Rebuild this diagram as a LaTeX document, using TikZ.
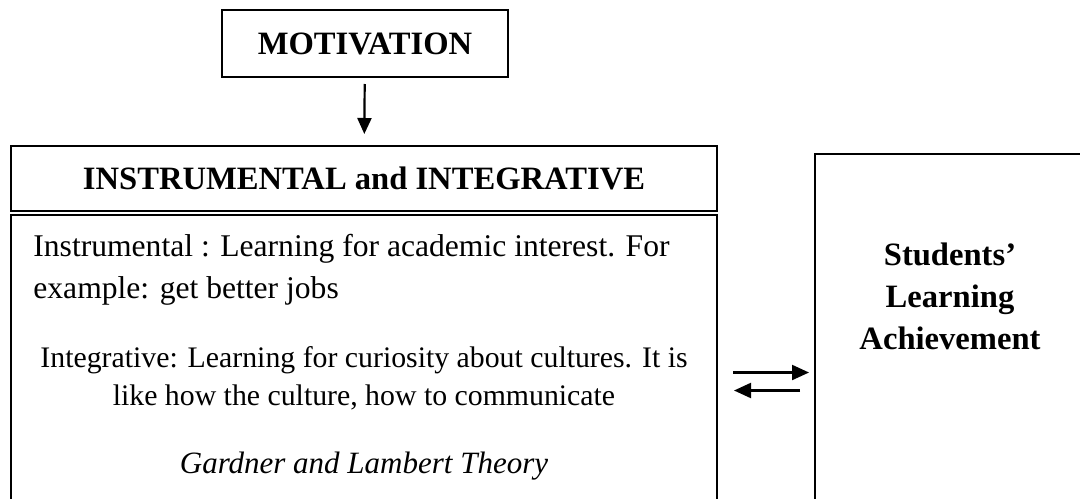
\documentclass[tikz,border=0pt]{standalone}
\usepackage{fontspec}
\setmainfont{Liberation Serif}
\usetikzlibrary{arrows.meta, positioning, calc}
\tikzset{
  basebox/.style={rectangle, draw=black, line width=1pt, inner sep=0pt, align=center},
  titlebox/.style={basebox, font=\fontsize{16.3}{21}\selectfont\bfseries},
  bodytext/.style={inner sep=0pt, font=\fontsize{15.5}{21}\selectfont},
  arrow/.style={-{Triangle[length=8pt, width=7pt]}, line width=1.1pt},
  pairarrow/.style={-{Triangle[length=8.5pt, width=7.5pt]}, line width=1.1pt}
}

\begin{document}
\begin{tikzpicture}[x=0.5pt, y=-0.5pt]
  \useasboundingbox (0,0) rectangle (1080,498);
  \clip (0,0) rectangle (1080,498);

  % boxes
  \node[titlebox, minimum width=143pt, minimum height=33.5pt] (motiv) at (365,43.5) {MOTIVATION};
  \node[titlebox, minimum width=353pt, minimum height=32.5pt] (types) at (364,178.5)
        {INSTRUMENTAL and INTEGRATIVE};
  \node[basebox, minimum width=353pt, minimum height=157.5pt] (body) at (364,372.5) {};
  \node[basebox, minimum width=135pt, minimum height=188pt] (achieve) at (950,342) {};

  % texts inside the boxes
  \node[bodytext, anchor=north west, align=left, font=\fontsize{15.8}{21}\selectfont] (instr) at (33,234)
        {Instrumental : Learning for academic interest. For\\example: get better jobs};
  \node[bodytext, anchor=north, align=center, font=\fontsize{14.9}{19}\selectfont] (integ) at (364,346)
        {Integrative: Learning for curiosity about cultures. It is\\like how the culture, how to communicate};
  \node[bodytext, anchor=base, font=\fontsize{15.5}{21}\selectfont\itshape] (theory) at (364,473)
        {Gardner and Lambert Theory};
  \node[bodytext, anchor=north, align=center, font=\fontsize{16.3}{21}\selectfont\bfseries] (achtext) at (950,242)
        {Students’\\Learning\\Achievement};

  % connectors
  \draw[arrow, shorten <=3pt, shorten >=5.5pt] (motiv) -- (types);
  \coordinate (low) at ([yshift=-9pt]body.east);
  \draw[pairarrow, shorten <=7.5pt, shorten >=2.5pt] (body.east) -- (body.east -| achieve.west);
  \draw[pairarrow, shorten <=7pt, shorten >=8pt] (low -| achieve.west) -- (low);
\end{tikzpicture}
\end{document}
